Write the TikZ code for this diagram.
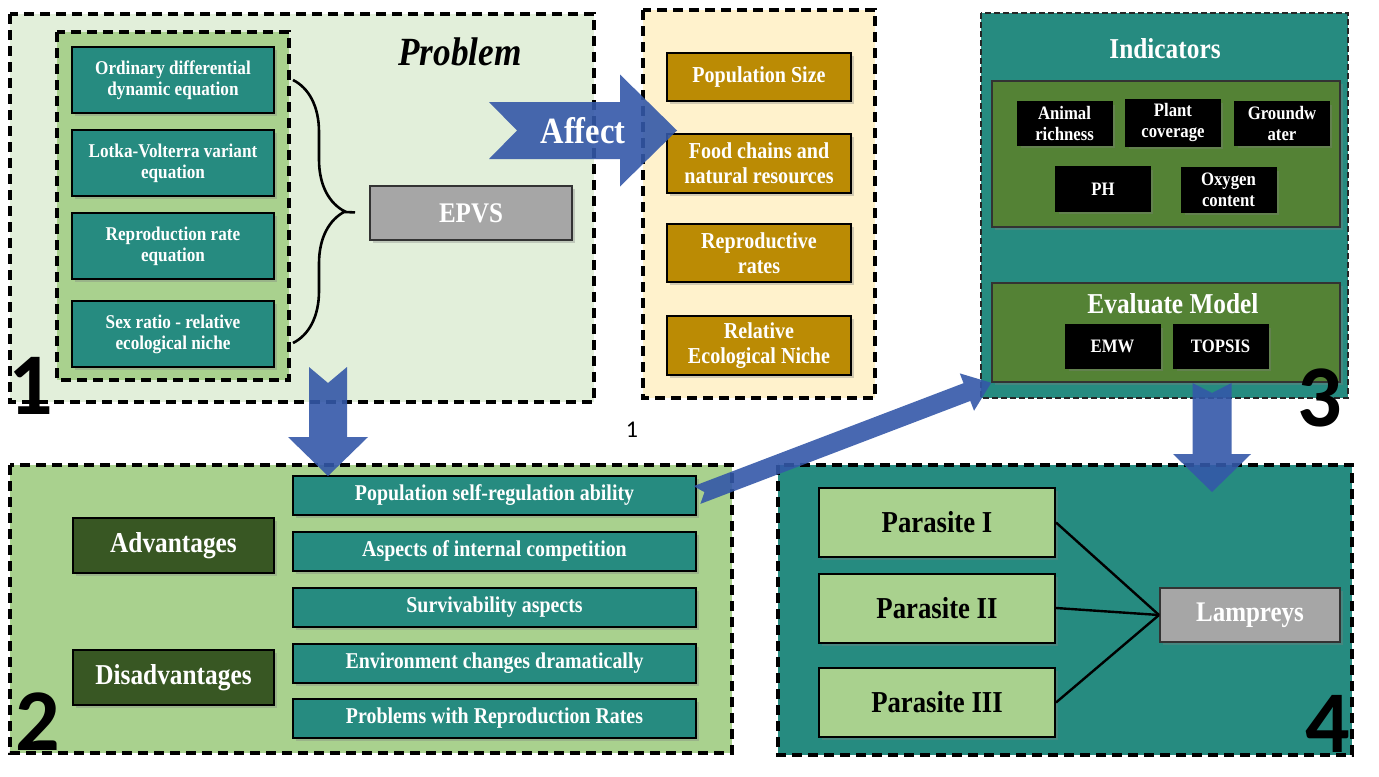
\documentclass[tikz,border=0pt]{standalone}
\usepackage{fontspec}
\setmainfont{Liberation Serif}[FakeStretch=0.88]
\newfontfamily\numfont{Carlito}
\usepackage{tikz}
\usetikzlibrary{positioning,calc,shadows,decorations.pathreplacing}

\definecolor{paleg}{RGB}{226,239,218}
\definecolor{midg}{RGB}{169,209,142}
\definecolor{teal1}{RGB}{38,139,128}
\definecolor{gold1}{RGB}{187,139,4}
\definecolor{beige}{RGB}{255,242,204}
\definecolor{panelg}{RGB}{84,130,53}
\definecolor{darkg}{RGB}{56,87,35}
\definecolor{grey1}{RGB}{166,166,166}
\definecolor{arrowblue}{RGB}{52,88,168}

% fat arrow: tail, tip, half shaft, half head, head length, notch
\newcommand{\fatarrow}[6]{%
  \coordinate (hb) at ($(#2)!#5!(#1)$);
  \fill[arrowblue, fill opacity=0.9]
    ($(#1)!#3!90:(#2)$) -- ($(hb)!#3!-90:(#1)$) -- ($(hb)!#4!-90:(#1)$) -- (#2)
    -- ($(hb)!#4!90:(#1)$) -- ($(hb)!#3!90:(#1)$) -- ($(#1)!#3!-90:(#2)$)
    -- ($(#1)!#6!(#2)$) -- cycle;
}

\begin{document}
\begin{tikzpicture}[x=0.5pt,y=-0.5pt,
  frame/.style={draw=black, line width=1.6pt, dash pattern=on 5pt off 3pt},
  fineframe/.style={draw=black!85, line width=0.9pt, dash pattern=on 3pt off 1.5pt},
  shade/.style={drop shadow={shadow xshift=1.5pt, shadow yshift=-1.5pt, opacity=0.35}},
  box/.style={draw=black, line width=1pt, shade, inner sep=2pt, align=center, font=\bfseries},
  tealbox/.style={box, fill=teal1, text=white, minimum width=101pt, minimum height=33pt,
    font=\bfseries\fontsize{9.75}{10.5}\selectfont},
  widebox/.style={box, fill=teal1, text=white, minimum width=201.5pt, minimum height=19.5pt,
    font=\bfseries\fontsize{11.3}{12}\selectfont},
  goldbox/.style={box, fill=gold1, text=white, minimum width=92pt,
    font=\bfseries\fontsize{11.4}{12.5}\selectfont},
  blackbox/.style={box, fill=black, text=white, minimum width=47pt, minimum height=21.5pt,
    font=\bfseries\fontsize{9.5}{10.5}\selectfont},
  headbox/.style={box, fill=darkg, text=white, minimum width=100.5pt, minimum height=27.5pt,
    font=\bfseries\fontsize{14.4}{15}\selectfont},
  greybox/.style={box, fill=grey1, draw=black!80, text=white, minimum height=27pt,
    font=\bfseries\fontsize{14.2}{15}\selectfont},
  parbox/.style={box, fill=midg, text=black, minimum width=118pt, minimum height=34.5pt,
    font=\bfseries\fontsize{15.2}{16}\selectfont},
  panel/.style={draw=black!80, line width=0.8pt, fill=panelg, shade, minimum width=174pt},
  titletext/.style={text=white, font=\bfseries\fontsize{14.4}{15}\selectfont},
  bignum/.style={inner sep=0pt, font=\numfont\bfseries\fontsize{44}{44}\selectfont}
]
\useasboundingbox (0,0) rectangle (1379,776);

% 1: problem
\draw[frame, fill=paleg] (10,14) rectangle (594,402);
\draw[frame, fill=midg] (57,32) rectangle (289,380);
\node[tealbox] (ode) at (173,80) {Ordinary differential\\dynamic equation};
\node[tealbox] (lv) at (173,163) {Lotka-Volterra variant\\equation};
\node[tealbox] (rre) at (173,246) {Reproduction rate\\equation};
\node[tealbox] (sex) at (173,334) {Sex ratio - relative\\ecological niche};
\node[greybox, minimum width=101pt] (epvs) at (471,213) {EPVS};
\node (prob) at (460,52) {\fontsize{20}{20}\selectfont\bfseries\itshape Problem};
\draw[line width=1.3pt, decorate, decoration={brace, amplitude=26pt}] (293,80) -- (293,343);
\coordinate (bracetip) at (345,212);
\draw[line width=1.3pt, shorten >=7pt] (bracetip) -- (epvs.west);
\node[bignum] (n1) at (31,386) {1};

% affected quantities
\draw[frame, fill=beige] (643,10) rectangle (875,398);
\node[goldbox, minimum height=24pt] (popsize) at (759,77) {Population Size};
\node[goldbox, minimum height=29.5pt] (food) at (759,163.5) {Food chains and\\natural resources};
\node[goldbox, minimum height=29pt] (reprate) at (759,253) {Reproductive\\rates};
\node[goldbox, minimum height=29.5pt] (niche) at (759,345.5) {Relative\\Ecological Niche};

% 3: indicators
\draw[fineframe, fill=teal1] (981,13) rectangle (1348,398);
\node[titletext] (ind) at (1165,49) {Indicators};
\node[panel, minimum height=73pt] (indpanel) at (1166,154) {};
\node[blackbox] (animal) at (1064.5,123) {Animal\\richness};
\node[blackbox] (plant) at (1173,123) {Plant\\coverage};
\node[blackbox] (ground) at (1282,123) {Groundw\\ater};
\node[blackbox, minimum height=22pt] (ph) at (1103,189) {PH};
\node[blackbox, minimum height=22pt] (oxy) at (1228.5,190) {Oxygen\\content};
\node[panel, minimum height=49.5pt] (evalpanel) at (1166,332.5) {};
\node[titletext] (evaltitle) at (1173,304) {Evaluate Model};
\node[blackbox] (emw) at (1112.5,346.5) {EMW};
\node[blackbox] (topsis) at (1220.5,346.5) {TOPSIS};
\node[bignum] (n3) at (1320,398) {3};

\node[font=\numfont\fontsize{12}{12}\selectfont] (pgnum) at (632,430) {1};

% 2: advantages
\draw[frame, fill=midg] (10,465) rectangle (732,753);
\node[headbox] (adv) at (173.5,545.5) {Advantages};
\node[headbox] (disadv) at (173.5,677.5) {Disadvantages};
\node[widebox] (selfreg) at (494.5,495) {Population self-regulation ability};
\node[widebox] (compet) at (494.5,551) {Aspects of internal competition};
\node[widebox] (surv) at (494.5,607) {Survivability aspects};
\node[widebox] (envch) at (494.5,663) {Environment changes dramatically};
\node[widebox] (reprob) at (494.5,718) {Problems with Reproduction Rates};
\node[bignum] (n2) at (38,722) {2};

% 4: parasites
\draw[frame, fill=teal1] (778,465) rectangle (1352,755);
\node[parbox] (par1) at (937,522.5) {Parasite I};
\node[parbox] (par2) at (937,608) {Parasite II};
\node[parbox] (par3) at (937,702.5) {Parasite III};
\node[greybox, minimum width=90pt] (lamp) at (1250,615) {Lampreys};
\draw[line width=1.2pt] (par1.east) -- (lamp.west);
\draw[line width=1.2pt] (par2.east) -- (lamp.west);
\draw[line width=1.2pt] (par3.east) -- (lamp.west);
\node[bignum] (n4) at (1328,724) {4};

% block arrows
\coordinate (affT) at (489,130.5);
\coordinate (affH) at (677,130.5);
\fatarrow{affT}{affH}{14.25pt}{28pt}{28.5pt}{14pt}
\node[text=white, font=\bfseries\fontsize{18.5}{19}\selectfont] (affect) at (583,131) {Affect};
\coordinate (downT) at (328,367);
\coordinate (downH) at (328,476);
\fatarrow{downT}{downH}{9.5pt}{20pt}{19.5pt}{8pt}
\fatarrow{selfreg.east}{evalpanel.south west}{4.75pt}{10pt}{13pt}{4pt}
\coordinate (lampT) at (1212,383);
\coordinate (lampH) at (1212,492);
\fatarrow{lampT}{lampH}{9.75pt}{19.5pt}{19pt}{5pt}
\end{tikzpicture}
\end{document}
